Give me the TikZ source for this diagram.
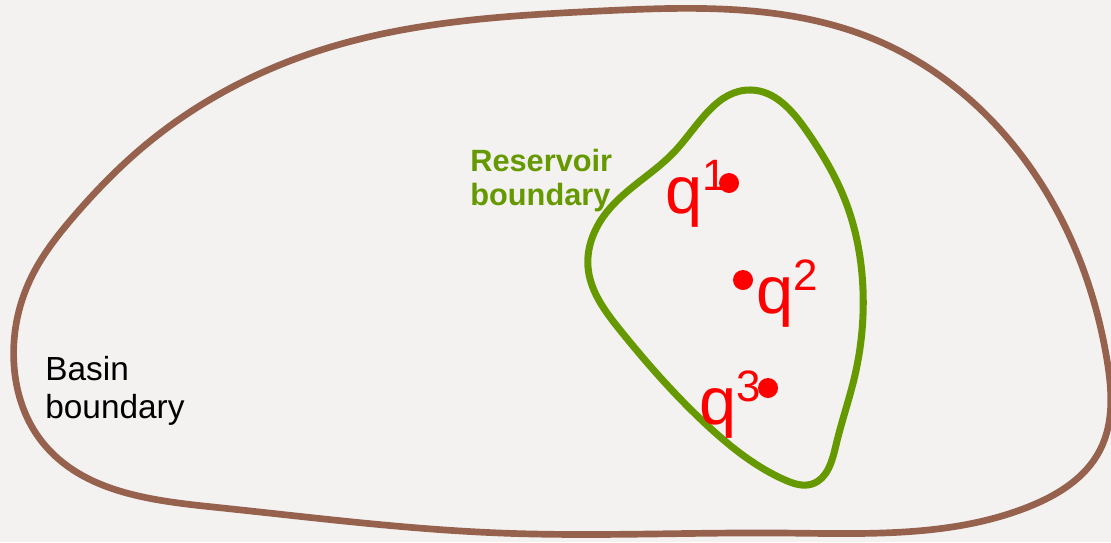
\documentclass[tikz,border=0pt]{standalone}
\usepackage{fontspec}
\setmainfont{Liberation Sans}
\usetikzlibrary{positioning, hobby}

\definecolor{slidebg}{RGB}{243,242,241}
\definecolor{basinbrown}{RGB}{150,98,78}
\definecolor{resgreen}{RGB}{102,153,0}

\tikzset{
  basin/.style={draw=basinbrown, line width=3.8pt, use Hobby shortcut, closed=true},
  reservoir/.style={draw=resgreen, line width=4pt, use Hobby shortcut, closed=true},
  well/.style={circle, fill=red, inner sep=0pt, minimum size=0.4cm},
  welllabel/.style={text=red, inner sep=0pt, anchor=base west, font=\fontsize{38}{38}\selectfont},
  tag/.style={inner sep=0pt, anchor=base west, align=left}
}
\newcommand{\wellq}[1]{q\raisebox{13pt}{\fontsize{25}{25}\selectfont #1}}

\begin{document}
\begin{tikzpicture}[x=0.02cm, y=-0.02cm]
    \fill[slidebg] (0,0) rectangle (1111,542);
    \useasboundingbox (0,0) rectangle (1111,542);
    % basin outline
    \draw[basin] (14,365) .. (30,280) .. (75,215) .. (143,147) .. (321,50)
      .. (600,11) .. (876,40) .. (1051,200) .. (1107,360) .. (1100,450)
      .. (1028,507) .. (780,533) .. (500,533) .. (213,507) .. (43,443);
    % reservoir outline
    \draw[reservoir] (751,90) .. (806,130) .. (845,200) .. (863,290)
      .. (855,375) .. (836,445) .. (812,484) .. (785,480) .. (709,427)
      .. (620,330) .. (588,267) .. (606,213) .. (676,150);
    % wells
    \node[well] (w1) at (729,183) {};
    \node[well] (w2) at (743,280) {};
    \node[well] (w3) at (768,388) {};
    \node[welllabel] (q1) at (665,213) {\wellq{1}};
    \node[welllabel] (q2) at (756,313) {\wellq{2}};
    \node[welllabel] (q3) at (699,424) {\wellq{3}};
    % labels
    \node[tag, font=\fontsize{19}{21.5}\selectfont] (basinlab) at (45,418) {Basin\\boundary};
    \node[tag, text=resgreen, font=\bfseries\fontsize{17.5}{19}\selectfont] (reslab) at (470,205) {Reservoir\\boundary};
\end{tikzpicture}
\end{document}
